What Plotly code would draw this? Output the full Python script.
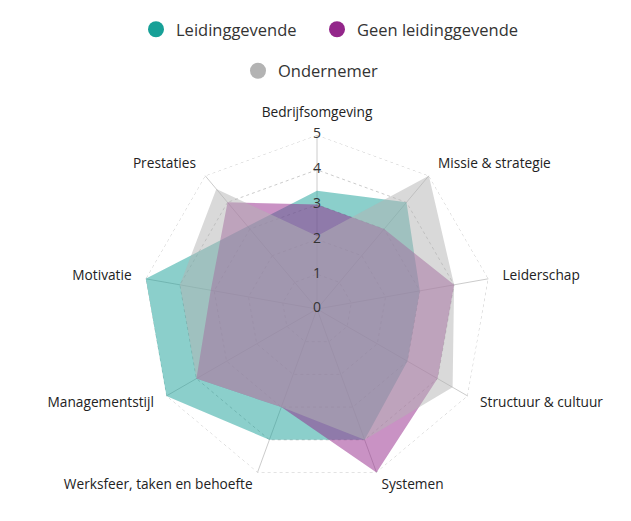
import plotly.graph_objects as go

categories = ["Bedrijfsomgeving", "Missie & strategie", "Leiderschap", "Structuur & cultuur",
              "Systemen", "Werksfeer, taken en behoefte", "Managementstijl", "Motivatie", "Prestaties"]
leidinggevende = [3.4, 4.0, 3.0, 3.0, 4.0, 4.0, 5.0, 5.0, 3.1]
geen_leidinggevende = [3.0, 3.0, 4.0, 4.0, 5.0, 3.0, 4.0, 3.1, 4.0]
ondernemer = [2.1, 5.0, 4.0, 4.5, 4.0, 3.0, 4.0, 4.0, 4.5]
radial_ticks = [0, 1, 2, 3, 4, 5]
r_max = 5

series = [
    ("Leidinggevende", leidinggevende, "#17a097", "rgba(23,160,151,0.5)", "legend"),
    ("Geen leidinggevende", geen_leidinggevende, "#93268a", "rgba(147,38,138,0.5)", "legend3"),
    ("Ondernemer", ondernemer, "#b3b3b3", "rgba(179,179,179,0.5)", "legend2"),
]

FONT = "Open Sans, Noto Sans, sans-serif"
CX, CY, PX_PER_UNIT = 317, 309, 34.8
W, H = 631, 521

fig = go.Figure()

# outer dashed ring of the web
fig.add_trace(go.Scatterpolar(
    r=[r_max] * (len(categories) + 1), theta=categories + categories[:1],
    mode="lines", line=dict(color="#c8c8c8", width=1, dash="3px,3px"),
    showlegend=False, hoverinfo="skip"))

for name, vals, col, fill, lg in series:
    fig.add_trace(go.Scatterpolar(
        r=vals + vals[:1], theta=categories + categories[:1],
        mode="lines", fill="toself", fillcolor=fill,
        line=dict(width=0, color=fill), name=name, showlegend=False,
        hoverinfo="skip"))
for name, vals, col, fill, lg in series:
    fig.add_trace(go.Scatterpolar(
        r=[None], theta=[None], mode="markers", name=name, legend=lg,
        marker=dict(size=16, color=col, symbol="circle"), showlegend=True))

# labels layer (second polar with same centre and same px per unit)
label_r = 5.41
positions = []
for i in range(len(categories)):
    ang = 360 * i / len(categories)
    if ang == 0:
        positions.append("top center")
    elif ang < 180:
        positions.append("middle right")
    else:
        positions.append("middle left")

fig.add_trace(go.Scatterpolar(
    r=[label_r] * len(categories), theta=categories, mode="text", text=categories,
    textposition=positions, textfont=dict(size=13.7, color="#222222", family=FONT),
    subplot="polar2", showlegend=False, hoverinfo="skip"))
fig.add_trace(go.Scatterpolar(
    r=radial_ticks, theta=[categories[0]] * len(radial_ticks),
    mode="text", text=[str(t) for t in radial_ticks], textposition="middle center",
    textfont=dict(size=14, color="#333333", family=FONT),
    subplot="polar2", showlegend=False, hoverinfo="skip"))

R1 = r_max * PX_PER_UNIT
R2 = 6 * PX_PER_UNIT


def dom(R):
    return dict(x=[(CX - R) / W, (CX + R) / W], y=[(H - CY - R) / H, (H - CY + R) / H])


def legend_at(x_px, y_px):
    return dict(orientation="h", x=x_px / W, xanchor="left", y=1 - y_px / H, yanchor="middle",
                font=dict(size=16.5, color="#333333", family=FONT), itemclick=False,
                bgcolor="rgba(0,0,0,0)")


fig.update_layout(
    width=W, height=H,
    margin=dict(l=0, r=0, t=0, b=0),
    paper_bgcolor="white", plot_bgcolor="white",
    font=dict(family=FONT, color="#222222"),
    polar=dict(
        domain=dom(R1),
        bgcolor="white",
        gridshape="linear",
        radialaxis=dict(range=[0, r_max], tickvals=radial_ticks, showticklabels=False,
                        ticks="", showline=False, gridcolor="#cccccc", griddash="3px,3px",
                        gridwidth=1),
        angularaxis=dict(direction="clockwise", rotation=90, showline=False,
                         gridcolor="#cccccc", ticks="", showticklabels=False),
    ),
    polar2=dict(
        domain=dom(R2),
        bgcolor="rgba(0,0,0,0)",
        radialaxis=dict(range=[0, 6], visible=False),
        angularaxis=dict(direction="clockwise", rotation=90, visible=False),
    ),
    legend=legend_at(136, 29.5),
    legend3=legend_at(317, 29.5),
    legend2=legend_at(238, 71),
)

fig.write_html("out.html")
